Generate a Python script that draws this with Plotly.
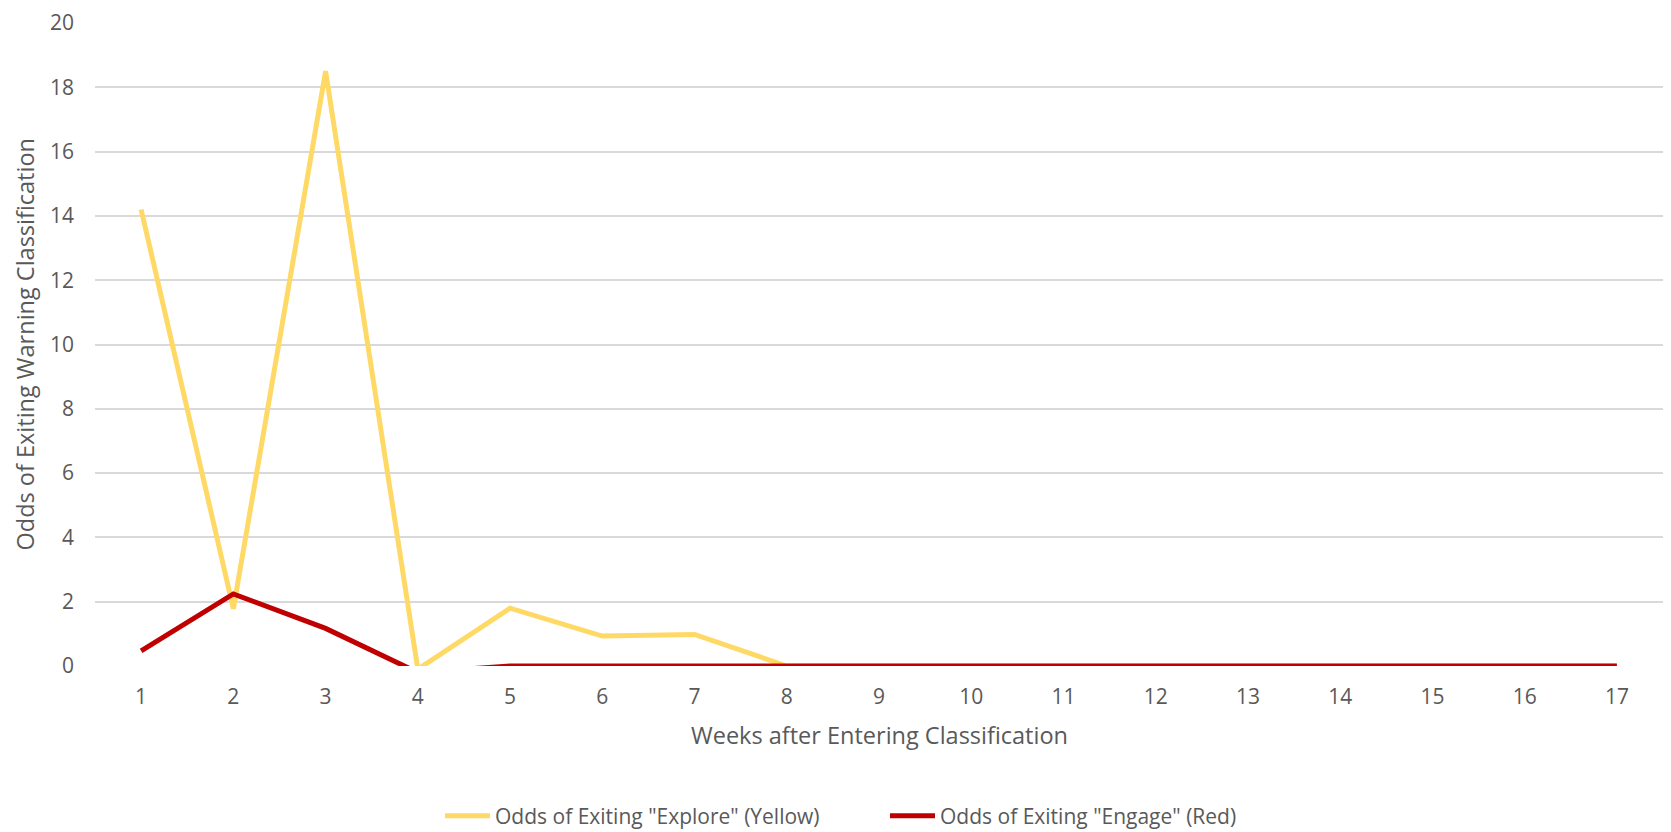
import plotly.graph_objects as go

# Weekly odds of leaving each warning classification
weeks = list(range(1, 18))
explore_yellow = [14.2, 1.78, 18.5, -0.1, 1.8, 0.93, 0.98, 0, 0, 0, 0, 0, 0, 0, 0, 0, 0]
engage_red = [0.47, 2.24, 1.17, -0.2, 0, 0, 0, 0, 0, 0, 0, 0, 0, 0, 0, 0, 0]
y_ticks = list(range(0, 21, 2))

FONT = "Open Sans"
GREY = "#595959"
FS = 21        # tick labels and legend
FS_TITLE = 23.5  # axis titles

W, H = 1671, 832
L, R, T, B = 95, 8, 17, 166
PW, PH = W - L - R, H - T - B

fig = go.Figure()
fig.add_trace(go.Scatter(
    x=weeks, y=explore_yellow, mode="lines",
    name='Odds of Exiting "Explore" (Yellow)',
    line=dict(color="#FFD966", width=5),
))
fig.add_trace(go.Scatter(
    x=weeks, y=engage_red, mode="lines",
    name='Odds of Exiting "Engage" (Red)',
    line=dict(color="#C00000", width=5),
))

fig.update_layout(
    width=W, height=H,
    margin=dict(l=L, r=R, t=T, b=B, pad=0),
    paper_bgcolor="white", plot_bgcolor="white",
    font=dict(family=FONT, size=FS, color=GREY),
    showlegend=True,
    legend=dict(
        orientation="h", xref="container", yref="container",
        x=885 / W, xanchor="center", y=1 - 816 / H, yanchor="middle",
        font=dict(family=FONT, size=FS, color=GREY),
        itemwidth=45, entrywidth=385, entrywidthmode="pixels",
        traceorder="normal",
    ),
    xaxis=dict(
        range=[0.5, 17.5], tickmode="array", tickvals=weeks,
        ticktext=[str(w) for w in weeks],
        showgrid=False, zeroline=False, showline=False, ticks="",
        ticklabelstandoff=16,
        tickfont=dict(family=FONT, size=FS, color=GREY),
    ),
    yaxis=dict(
        range=[0, 20], tickmode="array", tickvals=y_ticks,
        showgrid=True, gridcolor="#D9D9D9", gridwidth=1.5,
        zeroline=False, showline=False, ticks="",
        ticklabelstandoff=20,
        tickfont=dict(family=FONT, size=FS, color=GREY),
    ),
    annotations=[
        dict(text="Weeks after Entering Classification",
             xref="paper", yref="paper", x=0.5, y=(666 - 736) / PH,
             xanchor="center", yanchor="middle", showarrow=False,
             font=dict(family=FONT, size=FS_TITLE, color=GREY)),
        dict(text="Odds of Exiting Warning Classification",
             xref="paper", yref="paper", x=(24 - L) / PW, y=0.5,
             xanchor="center", yanchor="middle", showarrow=False,
             textangle=-90,
             font=dict(family=FONT, size=FS_TITLE, color=GREY)),
    ],
)

fig.write_html("out.html")
